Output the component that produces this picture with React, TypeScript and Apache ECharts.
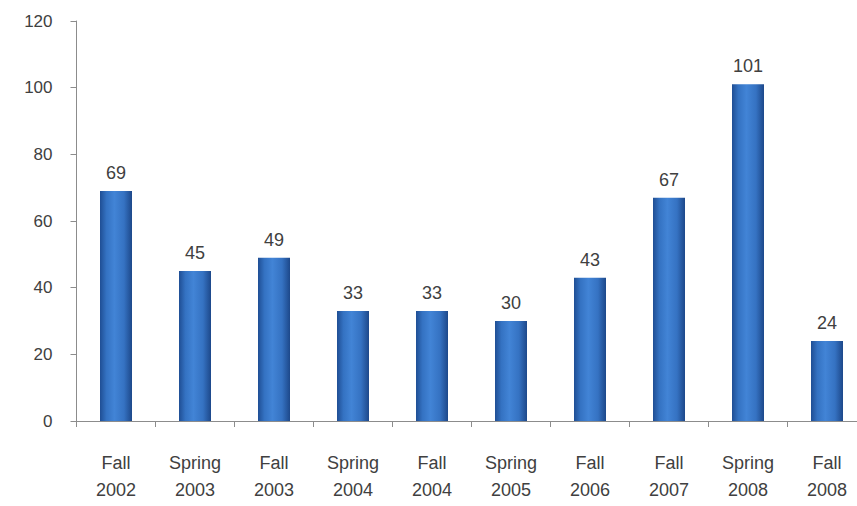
import React, { useEffect, useRef } from "react";
import * as echarts from "echarts";

const categories = [
  "Fall\n2002",
  "Spring\n2003",
  "Fall\n2003",
  "Spring\n2004",
  "Fall\n2004",
  "Spring\n2005",
  "Fall\n2006",
  "Fall\n2007",
  "Spring\n2008",
  "Fall\n2008",
];
const values = [69, 45, 49, 33, 33, 30, 43, 67, 101, 24];
const yTicks = { min: 0, max: 120, interval: 20 };

export default function App() {
  const ref = useRef<HTMLDivElement>(null);
  useEffect(() => {
    if (!ref.current) return;
    const chart = echarts.init(ref.current, undefined, { renderer: "svg" });
    const font = "Liberation Sans, Arial, sans-serif";
    chart.setOption({
      animation: false,
      backgroundColor: "#ffffff",
      grid: {
        left: 76.5,
        top: 21,
        width: 790,
        height: 400,
        containLabel: false,
        outerBoundsMode: "none",
      },
      xAxis: {
        type: "category",
        data: categories,
        axisLine: { lineStyle: { color: "#8c8c8c", width: 1 } },
        axisTick: { show: true, length: 6, alignWithLabel: false, lineStyle: { color: "#8c8c8c" } },
        axisLabel: {
          color: "#404040",
          fontSize: 18,
          fontFamily: font,
          lineHeight: 27,
          margin: 28,
          interval: 0,
        },
      },
      yAxis: {
        type: "value",
        min: yTicks.min,
        max: yTicks.max,
        interval: yTicks.interval,
        splitLine: { show: false },
        axisLine: { show: true, lineStyle: { color: "#8c8c8c", width: 1 } },
        axisTick: { show: true, length: 6, lineStyle: { color: "#8c8c8c" } },
        axisLabel: {
          color: "#404040",
          fontSize: 17,
          fontFamily: font,
          margin: 24,
        },
      },
      series: [
        {
          type: "bar",
          data: values,
          barWidth: 32,
          itemStyle: {
            color: new echarts.graphic.LinearGradient(0, 0, 1, 0, [
              { offset: 0, color: "#1f4e94" },
              { offset: 0.2, color: "#3472c2" },
              { offset: 0.45, color: "#4284d6" },
              { offset: 0.75, color: "#3572c2" },
              { offset: 1, color: "#1d488a" },
            ]),
          },
          label: {
            show: true,
            position: "top",
            distance: 9,
            color: "#404040",
            fontSize: 18,
            fontFamily: font,
          },
        },
      ],
    });
    return () => chart.dispose();
  }, []);
  return (
    <div
      ref={ref}
      style={{ position: "fixed", left: 0, top: 0, width: 857, height: 506, background: "#fff" }}
    />
  );
}
